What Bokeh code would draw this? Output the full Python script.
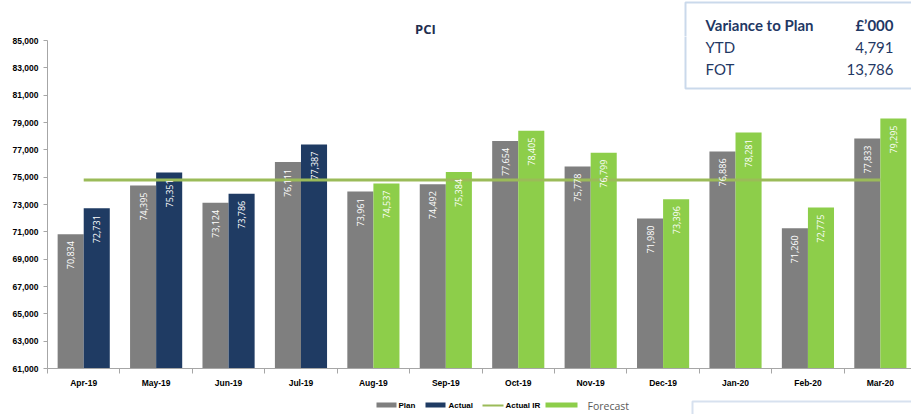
import numpy as np
from bokeh.plotting import figure
from bokeh.layouts import column
from bokeh.models import (Range1d, FixedTicker, NumeralTickFormatter, Label,
                          BoxAnnotation, ColumnDataSource)
from bokeh.embed import file_html
from bokeh.resources import INLINE
from bokeh.core.properties import value

# ---------------- data ----------------
months = ["Apr-19", "May-19", "Jun-19", "Jul-19", "Aug-19", "Sep-19",
          "Oct-19", "Nov-19", "Dec-19", "Jan-20", "Feb-20", "Mar-20"]
plan = [70834, 74395, 73124, 76111, 73961, 74492, 77654, 75778, 71980, 76886, 71260, 77833]
actual = [72731, 75351, 73786, 77387]
forecast = [74537, 75384, 78405, 76799, 73396, 78281, 72775, 79295]
actual_ir = 74800
y_ticks = [61000, 63000, 65000, 67000, 69000, 71000, 73000, 75000,
           77000, 79000, 81000, 83000, 85000]
chart_title = "PCI"
variance_title = "Variance to Plan"
variance_unit = "£’000"
variance_labels = ["YTD", "FOT"]
variance_values = ["4,791", "13,786"]
legend_labels = ["Plan", "Actual", "Actual IR", "Forecast"]

# ---------------- styles ----------------
PLAN_C = "#7F7F7F"
ACT_C = "#1F3B63"
FC_C = "#8DCE4A"
IR_C = "#9BBB59"
NAVY = "#1F3864"
BOX_C = "#4F81BD"
BAR_W = 0.36
W = 911
TOP_H, MAIN_H, BOT_H = 36, 356, 22

CU = dict(x_units="canvas", y_units="canvas")
BU = dict(left_units="canvas", right_units="canvas", top_units="canvas",
          bottom_units="canvas")


def strip(h):
    f = figure(width=W, height=h, x_range=Range1d(0, 1), y_range=Range1d(0, 1),
               output_backend="svg", toolbar_location=None,
               x_axis_location=None, y_axis_location=None,
               min_border=0, min_border_left=0, min_border_right=0,
               min_border_top=0, min_border_bottom=0)
    f.outline_line_color = None
    f.grid.visible = False
    f.background_fill_color = "white"
    f.border_fill_color = "white"
    return f


# ---------------- top strip: title + variance box header ----------------
top = strip(TOP_H)
top.add_layout(Label(x=425, y=28, text=chart_title, text_align="center",
                     text_baseline="middle", text_font="Open Sans",
                     text_font_style="bold", text_font_size="13px",
                     text_color="#1F2F4F", **CU))
top.add_layout(BoxAnnotation(left=685, right=930, top=2, bottom=80,
                             fill_color="white", fill_alpha=1,
                             line_color=BOX_C, line_width=2, **BU))
top.add_layout(Label(x=705, y=24, text=variance_title, text_baseline="middle",
                     text_font="Lato", text_font_style="bold",
                     text_font_size="15px", text_color=NAVY, **CU))
top.add_layout(Label(x=893, y=24, text=variance_unit, text_align="right",
                     text_baseline="middle", text_font="Lato",
                     text_font_style="bold", text_font_size="15px",
                     text_color=NAVY, **CU))

# ---------------- main chart ----------------
n = len(months)
centers = np.arange(n) + 0.5
boundaries = np.arange(n + 1)

p = figure(width=W, height=MAIN_H, x_range=Range1d(0, 11.93),
           y_range=Range1d(61000, 85300), output_backend="svg",
           toolbar_location=None, min_border_left=47, min_border_right=0,
           min_border_top=0, min_border_bottom=24)
p.outline_line_color = None
p.xgrid.visible = False
p.ygrid.visible = False
p.background_fill_color = "white"
p.border_fill_color = "white"


def fmt(v):
    return f"{v:,}"


plan_src = ColumnDataSource(dict(x=centers - BAR_W / 2, top=plan,
                                 lab=[fmt(v) for v in plan]))
act_src = ColumnDataSource(dict(x=centers[:len(actual)] + BAR_W / 2, top=actual,
                                lab=[fmt(v) for v in actual]))
fc_src = ColumnDataSource(dict(x=centers[len(actual):] + BAR_W / 2, top=forecast,
                               lab=[fmt(v) for v in forecast]))

for src, col in [(plan_src, PLAN_C), (act_src, ACT_C), (fc_src, FC_C)]:
    p.vbar(x="x", top="top", bottom=61000, width=BAR_W, source=src,
           fill_color=col, line_color=None)

p.line(x=[centers[0], centers[-1]], y=[actual_ir, actual_ir], line_color=IR_C,
       line_width=3)

for src in [plan_src, act_src, fc_src]:
    p.text(x="x", y="top", text="lab", source=src, angle=np.pi / 2,
           text_align="right", text_baseline="middle", y_offset=7,
           text_color="white", text_font=value("Open Sans"),
           text_font_size="9px")

yax = p.yaxis[0]
yax.ticker = FixedTicker(ticks=y_ticks)
yax.bounds = (y_ticks[0], y_ticks[-1])
yax.formatter = NumeralTickFormatter(format="0,0")
yax.major_label_text_font = "Liberation Sans"
yax.major_label_text_font_style = "bold"
yax.major_label_text_font_size = "8.5px"
yax.major_label_text_color = "black"
yax.axis_line_color = "#A6A6A6"
yax.major_tick_line_color = "#A6A6A6"
yax.major_tick_out = 4
yax.major_tick_in = 0
yax.minor_tick_line_color = None
yax.major_label_standoff = 5

xax = p.xaxis[0]
xax.ticker = FixedTicker(ticks=list(centers), minor_ticks=list(boundaries))
xax.major_label_overrides = {float(c): m for c, m in zip(centers, months)}
xax.major_label_text_font = "Liberation Sans"
xax.major_label_text_font_style = "bold"
xax.major_label_text_font_size = "8.5px"
xax.major_label_text_color = "black"
xax.axis_line_color = "#A6A6A6"
xax.major_tick_line_color = None
xax.major_tick_out = 4
xax.major_tick_in = 0
xax.minor_tick_line_color = "#A6A6A6"
xax.minor_tick_out = 5
xax.minor_tick_in = 0
xax.major_label_standoff = 4

# lower part of the variance box (canvas y relative to this figure)
p.add_layout(BoxAnnotation(left=685, right=930, top=-20, bottom=88 - TOP_H,
                           fill_color="white", fill_alpha=1,
                           line_color=BOX_C, line_width=2, **BU))
for i, (lab, val) in enumerate(zip(variance_labels, variance_values)):
    yy = 46.5 + i * 22 - TOP_H
    p.add_layout(Label(x=705, y=yy, text=lab, text_baseline="middle",
                       text_font="Lato", text_font_size="15px",
                       text_color=NAVY, **CU))
    p.add_layout(Label(x=893, y=yy, text=val, text_align="right",
                       text_baseline="middle", text_font="Lato",
                       text_font_size="15px", text_color=NAVY, **CU))

# ---------------- bottom strip: legend + partial box ----------------
bot = strip(BOT_H)
bot.add_layout(BoxAnnotation(left=692, right=930, top=9, bottom=60,
                             fill_color="white", fill_alpha=1,
                             line_color="#7A9CCB", line_width=2, **BU))
sw = [(376, 396, PLAN_C), (425, 445, ACT_C), (545, 577, FC_C)]
for l, r, c in sw:
    bot.add_layout(BoxAnnotation(left=l, right=r, top=10, bottom=15,
                                 fill_color=c, fill_alpha=1, line_color=None, **BU))
bot.add_layout(BoxAnnotation(left=482, right=503, top=12, bottom=14,
                             fill_color=IR_C, fill_alpha=1, line_color=None, **BU))
for x0, t in [(398, legend_labels[0]), (448, legend_labels[1]), (505, legend_labels[2])]:
    bot.add_layout(Label(x=x0, y=13, text=t, text_baseline="middle",
                         text_font="Liberation Sans", text_font_style="bold",
                         text_font_size="8px", text_color="black", **CU))
bot.add_layout(Label(x=587, y=13, text=legend_labels[3], text_baseline="middle",
                     text_font="Open Sans", text_font_size="10.5px",
                     text_color="#595959", **CU))

layout = column(top, p, bot, spacing=0)
open("out.html", "w").write(file_html(layout, INLINE))
